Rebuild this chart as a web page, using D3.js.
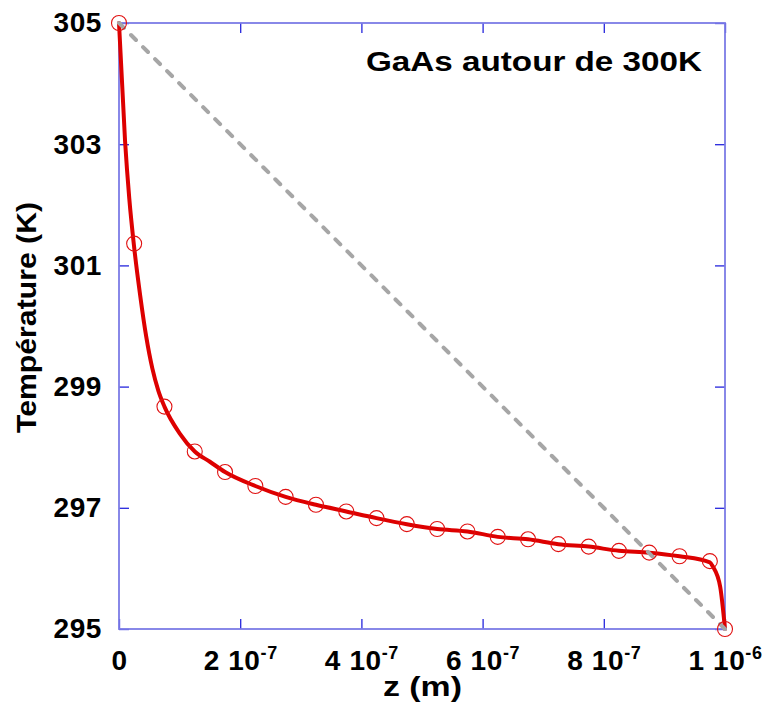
<!DOCTYPE html>
<html>
<head>
<meta charset="utf-8">
<script src="https://cdn.jsdelivr.net/npm/d3@7"></script>
<style>
  html, body { margin: 0; padding: 0; background: #fff; }
  svg text { font-family: "Liberation Sans", Arial, Helvetica, sans-serif; font-weight: bold; fill: #000; }
</style>
</head>
<body>
<svg id="chart" width="767" height="705"></svg>
<script>
// Sampled points (circles): depth z (m) and temperature (K)
const markerZ = [0, 2.5e-8, 7.5e-8, 1.25e-7, 1.75e-7, 2.25e-7, 2.75e-7, 3.25e-7, 3.75e-7,
  4.25e-7, 4.75e-7, 5.25e-7, 5.75e-7, 6.25e-7, 6.75e-7, 7.25e-7, 7.75e-7, 8.25e-7,
  8.75e-7, 9.25e-7, 9.75e-7, 1.0e-6];
const markerT = [305, 301.36, 298.67, 297.93, 297.59, 297.36, 297.18, 297.05, 296.94,
  296.83, 296.73, 296.65, 296.61, 296.52, 296.48, 296.40, 296.36, 296.29,
  296.26, 296.20, 296.12, 295.0];

// Continuous profile (red curve)
const lineZ = [0, 1.0e-8, 1.7e-8, 2.5e-8, 3.5e-8, 4.5e-8, 5.5e-8, 6.5e-8, 7.5e-8, 1.0e-7,
  1.25e-7, 1.5e-7, 1.75e-7, 2.25e-7, 2.75e-7, 3.25e-7, 3.75e-7, 4.25e-7, 4.75e-7,
  5.25e-7, 5.75e-7, 6.25e-7, 6.75e-7, 7.25e-7, 7.75e-7, 8.25e-7, 8.75e-7, 9.25e-7,
  9.75e-7, 9.8e-7, 9.92e-7, 1.0e-6];
const lineT = [305, 303.05, 302.1, 301.3, 300.5, 299.82, 299.3, 298.93, 298.67, 298.23,
  297.93, 297.76, 297.59, 297.36, 297.18, 297.05, 296.94, 296.83, 296.73,
  296.65, 296.61, 296.52, 296.48, 296.40, 296.36, 296.29, 296.26, 296.20,
  296.10, 296.03, 295.70, 295.0];

// Linear reference between the two boundary temperatures
const linearZ = [0, 1.0e-6];
const linearT = [305, 295];

const xTicks = [0, 2e-7, 4e-7, 6e-7, 8e-7, 1e-6];
const xTickText = ["0", "2 10", "4 10", "6 10", "8 10", "1 10"];
const xTickExp = ["", "-7", "-7", "-7", "-7", "-6"];
const yTicks = [295, 297, 299, 301, 303, 305];

const title = "GaAs autour de 300K";
const xTitle = "z (m)";
const yTitle = "Température (K)";

const W = 767, H = 705;
const margin = { left: 119, right: 42, top: 23, bottom: 76 };
const pw = W - margin.left - margin.right;
const ph = H - margin.top - margin.bottom;

const svg = d3.select("#chart");
const g = svg.append("g").attr("transform", `translate(${margin.left},${margin.top})`);

const x = d3.scaleLinear().domain([0, 1e-6]).range([0, pw]);
const y = d3.scaleLinear().domain([295, 305]).range([ph, 0]);

const tickColor = "#2626dd";
const frameColor = "#7c7ce6";
const labelFont = '"Liberation Sans", Arial, sans-serif';

// Inward ticks on all four sides
const axL = g.append("g").call(d3.axisLeft(y).tickValues(yTicks).tickSizeInner(-10).tickSizeOuter(0).tickPadding(17).tickFormat(d3.format("d")));
const axR = g.append("g").attr("transform", `translate(${pw},0)`).call(d3.axisRight(y).tickValues(yTicks).tickSizeInner(-10).tickSizeOuter(0).tickFormat(""));
const axB = g.append("g").attr("transform", `translate(0,${ph})`).call(d3.axisBottom(x).tickValues(xTicks).tickSizeInner(-10).tickSizeOuter(0).tickPadding(21).tickFormat(""));
const axT = g.append("g").call(d3.axisTop(x).tickValues(xTicks).tickSizeInner(-10).tickSizeOuter(0).tickFormat(""));

[axL, axR, axB, axT].forEach(a => {
  a.select(".domain").remove();
  a.selectAll(".tick line").attr("stroke", tickColor).attr("stroke-width", 1.3);
});

axL.selectAll(".tick text")
  .attr("font-size", 28).attr("font-weight", "bold")
  .attr("font-family", labelFont).attr("letter-spacing", 0.6)
  .attr("fill", "#000").attr("dy", "0.32em");

// Bottom labels with superscript exponents
axB.selectAll(".tick").each(function(d, i) {
  const t = d3.select(this).select("text")
    .attr("font-size", 28).attr("font-weight", "bold")
    .attr("font-family", labelFont).attr("letter-spacing", 0.6)
    .attr("fill", "#000").attr("y", 21).attr("dy", "0.71em").text(null);
  t.append("tspan").text(xTickText[i]);
  if (xTickExp[i]) {
    t.append("tspan").attr("font-size", 18).attr("dy", -11).text(xTickExp[i]);
  }
});

// Plot frame
g.append("rect")
  .attr("x", 0).attr("y", 0).attr("width", pw).attr("height", ph)
  .attr("fill", "none").attr("stroke", frameColor).attr("stroke-width", 1.8);

// Red temperature profile
const line = d3.line().x(d => x(d[0])).y(d => y(d[1])).curve(d3.curveMonotoneX);
g.append("path")
  .datum(lineZ.map((z, i) => [z, lineT[i]]))
  .attr("d", line)
  .attr("fill", "none").attr("stroke", "#dd0000").attr("stroke-width", 4)
  .attr("stroke-linejoin", "round").attr("stroke-linecap", "round");

// Gray dashed linear reference
g.append("path")
  .datum(linearZ.map((z, i) => [z, linearT[i]]))
  .attr("d", d3.line().x(d => x(d[0])).y(d => y(d[1])))
  .attr("fill", "none").attr("stroke", "#a6a6a6").attr("stroke-width", 4)
  .attr("stroke-dasharray", "7,10").attr("stroke-linecap", "round");

// Sample markers
g.selectAll("circle.pt")
  .data(markerZ.map((z, i) => [z, markerT[i]]))
  .join("circle")
  .attr("class", "pt")
  .attr("cx", d => x(d[0])).attr("cy", d => y(d[1])).attr("r", 7.5)
  .attr("fill", "none").attr("stroke", "#e01010").attr("stroke-width", 1.1);

// Annotation (wide bold lettering)
svg.append("text")
  .attr("x", 366).attr("y", 71)
  .attr("font-size", 28)
  .attr("textLength", 336).attr("lengthAdjust", "spacingAndGlyphs")
  .text(title);

// Axis titles
svg.append("text")
  .attr("x", 383).attr("y", 696)
  .attr("font-size", 28)
  .attr("textLength", 79).attr("lengthAdjust", "spacingAndGlyphs")
  .text(xTitle);

svg.append("text")
  .attr("transform", "translate(36,0) rotate(-90)")
  .attr("x", -433).attr("y", 0)
  .attr("font-size", 28)
  .attr("textLength", 231).attr("lengthAdjust", "spacingAndGlyphs")
  .text(yTitle);
</script>
</body>
</html>
